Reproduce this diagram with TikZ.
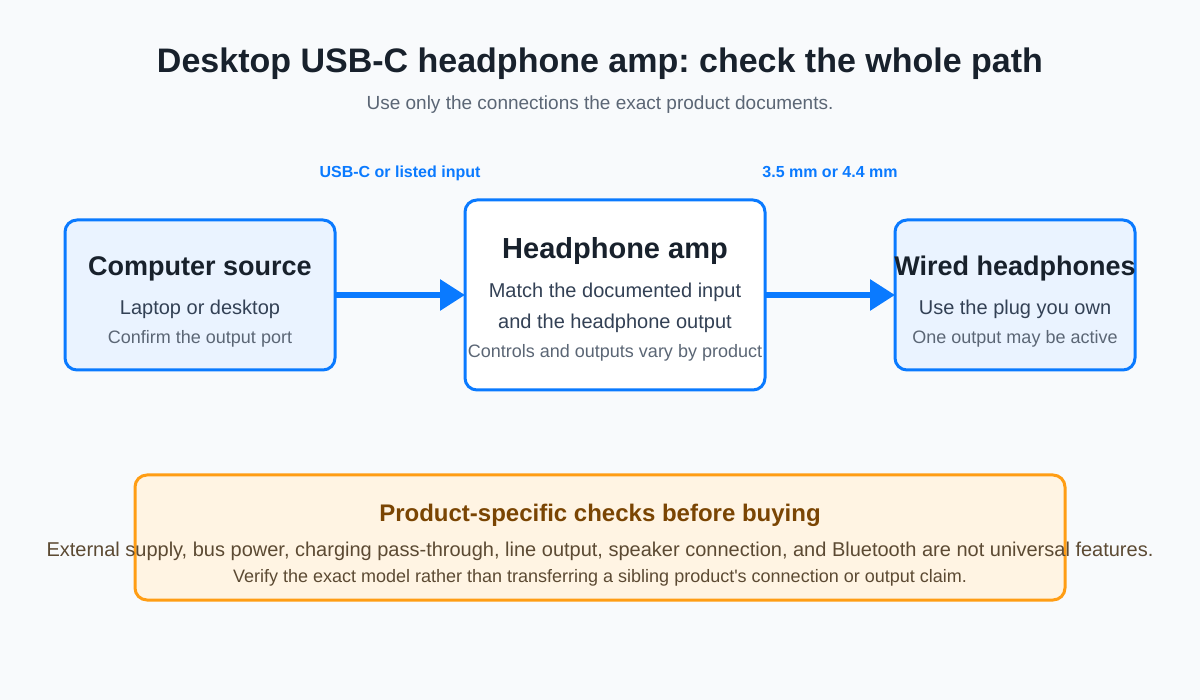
\documentclass[tikz,border=0pt]{standalone}
\usepackage{fontspec}
\setmainfont{Liberation Sans}
\usetikzlibrary{arrows.meta}
\frenchspacing

\definecolor{pagebg}{HTML}{F8FAFC}
\definecolor{inkdark}{HTML}{18212C}
\definecolor{inkmid}{HTML}{334155}
\definecolor{inkgray}{HTML}{5B6675}
\definecolor{flowblue}{HTML}{0A7AFF}
\definecolor{boxfill}{HTML}{EAF3FF}
\definecolor{noteline}{HTML}{FF9D14}
\definecolor{notefill}{HTML}{FFF4E3}
\definecolor{notehead}{HTML}{7A4503}
\definecolor{notetext}{HTML}{5C4A33}

\newcommand{\fsz}[1]{\fontsize{#1}{#1}\selectfont}

\begin{document}
\begin{tikzpicture}[x=1pt, y=-1pt,
    every node/.style={anchor=base, inner sep=0pt},
    stage/.style={draw=flowblue, line width=3pt, rounded corners=12pt},
    flow/.style={draw=flowblue, line width=6pt, -{Triangle[length=25pt, width=30pt]}},
    boxhead/.style={font=\fsz{27}\bfseries, text=inkdark},
    boxline/.style={font=\fsz{20}, text=inkmid},
    boxnote/.style={font=\fsz{18}, text=inkgray},
    portlabel/.style={font=\fsz{16}\bfseries, text=flowblue}]
    % Nền
    \fill[pagebg] (0,0) rectangle (1200,700);

    % Tiêu đề
    \node (title) at (600,73) {\fsz{34}\bfseries\color{inkdark}Desktop USB-C headphone amp: check the whole path};
    \node (subtitle) at (600,110) {\fsz{19}\color{inkgray}Use only the connections the exact product documents.};

    % Nguồn
    \draw[stage, fill=boxfill] (65,220) rectangle (335,370);
    \coordinate (srcR) at (335,295);
    \node[boxhead] (srcT) at (200,276) {Computer source};
    \node[boxline] (srcA) at (200,315) {Laptop or desktop};
    \node[boxnote] (srcB) at (200,344) {Confirm the output port};

    % Bộ khuếch đại
    \draw[stage, fill=white] (465,200) rectangle (765,390);
    \coordinate (ampL) at (465,295);
    \coordinate (ampR) at (765,295);
    \node[boxhead, font=\fsz{29}\bfseries] (ampT) at (615,259) {Headphone amp};
    \node[boxline] (ampA) at (615,298) {Match the documented input};
    \node[boxline] (ampB) at (615,329) {and the headphone output};
    \node[boxnote] (ampC) at (615,358) {Controls and outputs vary by product};

    % Tai nghe
    \draw[stage, fill=boxfill] (895,220) rectangle (1135,370);
    \coordinate (hpL) at (895,295);
    \node[boxhead] (hpT) at (1015,276) {Wired headphones};
    \node[boxline] (hpA) at (1015,315) {Use the plug you own};
    \node[boxnote] (hpB) at (1015,344) {One output may be active};

    % Mũi tên
    \draw[flow] (srcR) -- (ampL);
    \draw[flow] (ampR) -- (hpL);
    \node[portlabel] (inLabel) at (400,178) {USB-C or listed input};
    \node[portlabel] (outLabel) at (830,178) {3.5 mm or 4.4 mm};

    % Ghi chú
    \draw[draw=noteline, line width=3pt, rounded corners=12pt, fill=notefill]
        (135,475) rectangle (1065,600);
    \node (noteT) at (600,521) {\fsz{24}\bfseries\color{notehead}Product-specific checks before buying};
    \node (noteA) at (600,556) {\fsz{20}\color{notetext}External supply, bus power, charging pass-through, line output, speaker connection, and Bluetooth are not universal features.};
    \node (noteB) at (600,582) {\fsz{18}\color{notetext}Verify the exact model rather than transferring a sibling product\textquotesingle s connection or output claim.};
\end{tikzpicture}
\end{document}
